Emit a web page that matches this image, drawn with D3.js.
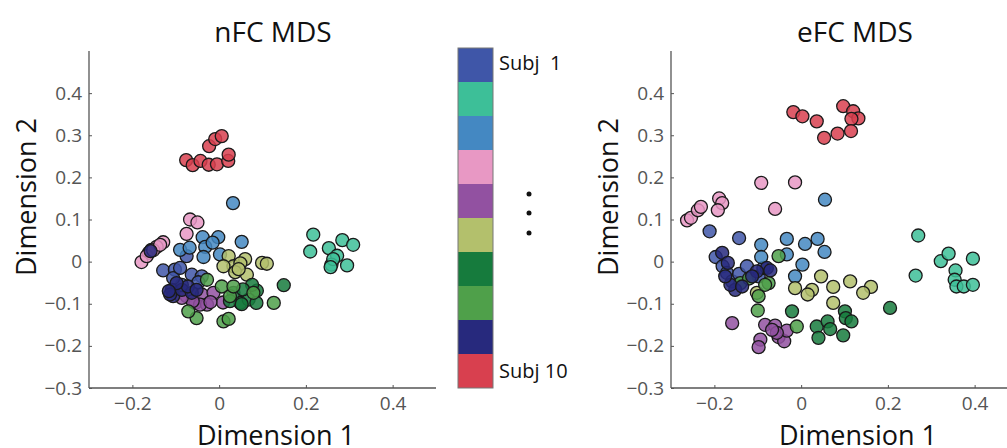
<!DOCTYPE html>
<html>
<head>
<meta charset="utf-8">
<script src="https://cdn.jsdelivr.net/npm/d3@7"></script>
<style>
  body { margin: 0; background: #fff; }
  svg { display: block; font-family: "Open Sans", sans-serif; }
</style>
</head>
<body>
<svg width="1007" height="448"></svg>
<script>
// subject colours, Subj 1 .. Subj 10
const subjColors = ["#3f56a8", "#3dbf98", "#4488c2", "#e898c4", "#9251a1",
                    "#b3c06c", "#167b3d", "#4fa04a", "#27297d", "#d8404f"];
const xTicks = [-0.2, 0, 0.2, 0.4];
const yTicks = [-0.3, -0.2, -0.1, 0, 0.1, 0.2, 0.3, 0.4];

// nFC MDS, one row per subject
const nfcX = [
  [-0.129, -0.102, -0.086, -0.106, -0.063, -0.040, -0.075, -0.048, -0.156, -0.090],
  [0.217, 0.210, 0.253, 0.284, 0.309, 0.272, 0.259, 0.295, 0.263, 0.257],
  [0.032, -0.038, -0.002, 0.052, -0.032, 0.002, -0.036, -0.090, -0.068, -0.015],
  [-0.067, -0.050, -0.075, -0.129, -0.144, -0.162, -0.179, -0.167, -0.152, -0.136],
  [-0.075, -0.055, -0.040, -0.028, -0.013, 0.009, -0.044, -0.061, -0.086, -0.020],
  [0.022, 0.060, 0.033, 0.049, 0.099, 0.110, 0.037, 0.064, 0.010, 0.045],
  [0.149, 0.087, 0.076, 0.049, 0.068, 0.086, 0.033, 0.055, 0.025, 0.052],
  [0.126, 0.010, 0.022, -0.052, -0.071, 0.025, 0.006, 0.033, 0.079, -0.028],
  [-0.109, -0.106, -0.113, -0.086, -0.063, -0.072, -0.098, -0.158, -0.052, -0.116],
  [-0.076, -0.061, -0.043, -0.024, -0.005, 0.021, 0.022, -0.023, -0.009, 0.006]
];
const nfcY = [
  [-0.021, -0.019, -0.055, -0.039, -0.031, -0.035, 0.013, -0.049, 0.028, -0.015],
  [0.064, 0.024, 0.032, 0.051, 0.040, 0.014, -0.007, -0.009, 0.006, -0.013],
  [0.139, 0.058, 0.058, 0.047, 0.035, 0.017, 0.011, 0.028, 0.033, 0.045],
  [0.100, 0.093, 0.066, 0.046, 0.035, 0.021, -0.001, 0.013, 0.027, 0.040],
  [-0.082, -0.098, -0.078, -0.102, -0.074, -0.097, -0.102, -0.094, -0.086, -0.096],
  [0.013, 0.006, -0.011, -0.004, -0.003, -0.005, -0.025, -0.031, -0.011, -0.018],
  [-0.056, -0.069, -0.055, -0.098, -0.090, -0.098, -0.074, -0.066, -0.094, -0.101],
  [-0.098, -0.142, -0.136, -0.134, -0.118, -0.082, -0.059, -0.059, -0.074, -0.043],
  [-0.067, -0.082, -0.078, -0.067, -0.074, -0.059, -0.051, 0.025, -0.067, -0.070],
  [0.241, 0.229, 0.239, 0.230, 0.231, 0.239, 0.254, 0.274, 0.291, 0.298]
];

// eFC MDS, one row per subject
const efcX = [
  [-0.211, -0.143, -0.197, -0.181, -0.171, -0.159, -0.143, -0.125, -0.098, -0.087],
  [0.270, 0.264, 0.322, 0.340, 0.396, 0.356, 0.354, 0.358, 0.375, 0.396],
  [0.055, -0.092, -0.033, 0.009, 0.038, 0.054, -0.033, -0.092, 0.003, -0.014],
  [-0.092, -0.014, -0.060, -0.263, -0.254, -0.238, -0.231, -0.189, -0.182, -0.192],
  [-0.159, -0.094, -0.098, -0.083, -0.060, -0.052, -0.039, -0.033, -0.056, -0.067],
  [0.046, -0.014, 0.025, 0.074, 0.113, 0.015, 0.074, 0.161, 0.143, -0.102],
  [0.205, -0.021, 0.101, 0.103, 0.116, 0.036, 0.061, 0.067, 0.097, 0.040],
  [-0.052, -0.075, -0.140, -0.098, -0.100, -0.010, -0.083, -0.120],
  [-0.182, -0.169, -0.152, -0.163, -0.079, -0.102, -0.136, -0.175, -0.071, -0.113],
  [-0.018, 0.003, 0.036, 0.053, 0.084, 0.097, 0.120, 0.132, 0.116, 0.115]
];
const efcY = [
  [0.072, 0.056, 0.011, -0.011, -0.027, -0.047, -0.029, -0.011, -0.035, -0.015],
  [0.062, -0.033, 0.001, 0.019, 0.007, -0.021, -0.043, -0.059, -0.059, -0.055],
  [0.147, 0.040, 0.054, 0.042, 0.054, 0.023, 0.017, 0.011, -0.007, -0.035],
  [0.187, 0.188, 0.125, 0.098, 0.104, 0.122, 0.130, 0.150, 0.139, 0.122],
  [-0.146, -0.185, -0.203, -0.150, -0.152, -0.179, -0.189, -0.164, -0.169, -0.162],
  [-0.035, -0.063, -0.067, -0.060, -0.047, -0.078, -0.098, -0.060, -0.074, -0.074],
  [-0.110, -0.118, -0.118, -0.134, -0.142, -0.154, -0.142, -0.160, -0.175, -0.181],
  [0.013, -0.051, -0.051, -0.082, -0.116, -0.154, -0.055, -0.040],
  [0.021, -0.003, -0.067, -0.055, -0.015, -0.023, -0.059, -0.035, -0.021, -0.035],
  [0.355, 0.345, 0.333, 0.294, 0.304, 0.369, 0.357, 0.340, 0.339, 0.310]
];

const svg = d3.select("svg");

function drawPanel(x0, xs, ys, title) {
  const attr = { width: 347, height: 337, top: 51 };
  const scX = d3.scaleLinear().domain([-0.3, 0.5]).range([0, attr.width]);
  const scY = d3.scaleLinear().domain([-0.3, 0.5]).range([attr.height, 0]);
  const fmt = d => d === 0 ? "0" : d3.format(".1f")(d);

  const g = svg.append("g").attr("transform", `translate(${x0}, ${attr.top})`);

  // axes, ticks pointing inward like matlab
  const axX = g.append("g")
    .attr("transform", `translate(0, ${attr.height})`)
    .call(d3.axisBottom(scX).tickValues(xTicks).tickSize(-3).tickPadding(9).tickFormat(fmt));
  const axY = g.append("g")
    .call(d3.axisLeft(scY).tickValues(yTicks).tickSize(-3).tickPadding(7).tickFormat(fmt));

  [axX, axY].forEach(ax => {
    ax.select(".domain").attr("stroke", "#555").attr("stroke-width", 1.3);
    ax.selectAll(".tick line").attr("stroke", "#555");
    ax.selectAll("text").attr("fill", "#555").style("font-size", "19px")
      .style("font-family", "'Open Sans', sans-serif");
  });
  axY.select(".domain").attr("d", `M0,0V${attr.height}`);
  axX.select(".domain").attr("d", `M0,0H${attr.width}`);

  // points
  for (let s = 0; s < xs.length; s++) {
    const pts = xs[s].map((v, i) => ({ x: v, y: ys[s][i] }));
    g.selectAll(".dot" + s)
      .data(pts)
      .enter()
      .append("circle")
      .attr("cx", d => scX(d.x))
      .attr("cy", d => scY(d.y))
      .attr("r", 6.5)
      .style("fill", subjColors[s])
      .style("fill-opacity", 0.85)
      .style("stroke", "#1a1a1a")
      .style("stroke-width", 1.3);
  }

  // titles and labels
  g.append("text")
    .attr("x", 184).attr("y", -9)
    .attr("text-anchor", "middle")
    .style("font-size", "28px").attr("fill", "#111")
    .text(title);
  g.append("text")
    .attr("x", 187).attr("y", attr.height + 57)
    .attr("text-anchor", "middle")
    .style("font-size", "27px").attr("fill", "#111")
    .text("Dimension 1");
  g.append("text")
    .attr("transform", `translate(-53, 146) rotate(-90)`)
    .attr("text-anchor", "middle")
    .style("font-size", "27px").attr("fill", "#111")
    .text("Dimension 2");
}

drawPanel(89, nfcX, nfcY, "nFC MDS");
drawPanel(671, efcX, efcY, "eFC MDS");

// colour bar
const cb = { x: 458, y: 48, w: 35, h: 340 };
const scCb = d3.scaleBand().domain(d3.range(10)).range([cb.y, cb.y + cb.h]);
svg.append("g").selectAll("rect")
  .data(subjColors)
  .enter()
  .append("rect")
  .attr("x", cb.x)
  .attr("y", (d, i) => scCb(i))
  .attr("width", cb.w)
  .attr("height", scCb.bandwidth())
  .style("fill", d => d);
svg.append("rect")
  .attr("x", cb.x).attr("y", cb.y).attr("width", cb.w).attr("height", cb.h)
  .style("fill", "none").style("stroke", "#777").style("stroke-width", 1);

svg.append("text").attr("x", 499).attr("y", 70)
  .style("font-size", "20px").attr("fill", "#111").text("Subj\u00a0\u00a01");
svg.append("text").attr("x", 499).attr("y", 378)
  .style("font-size", "20px").attr("fill", "#111").text("Subj 10");

svg.append("g").selectAll("circle")
  .data([194, 213, 233])
  .enter()
  .append("circle")
  .attr("cx", 529).attr("cy", d => d).attr("r", 2.5)
  .style("fill", "#111");
</script>
</body>
</html>
